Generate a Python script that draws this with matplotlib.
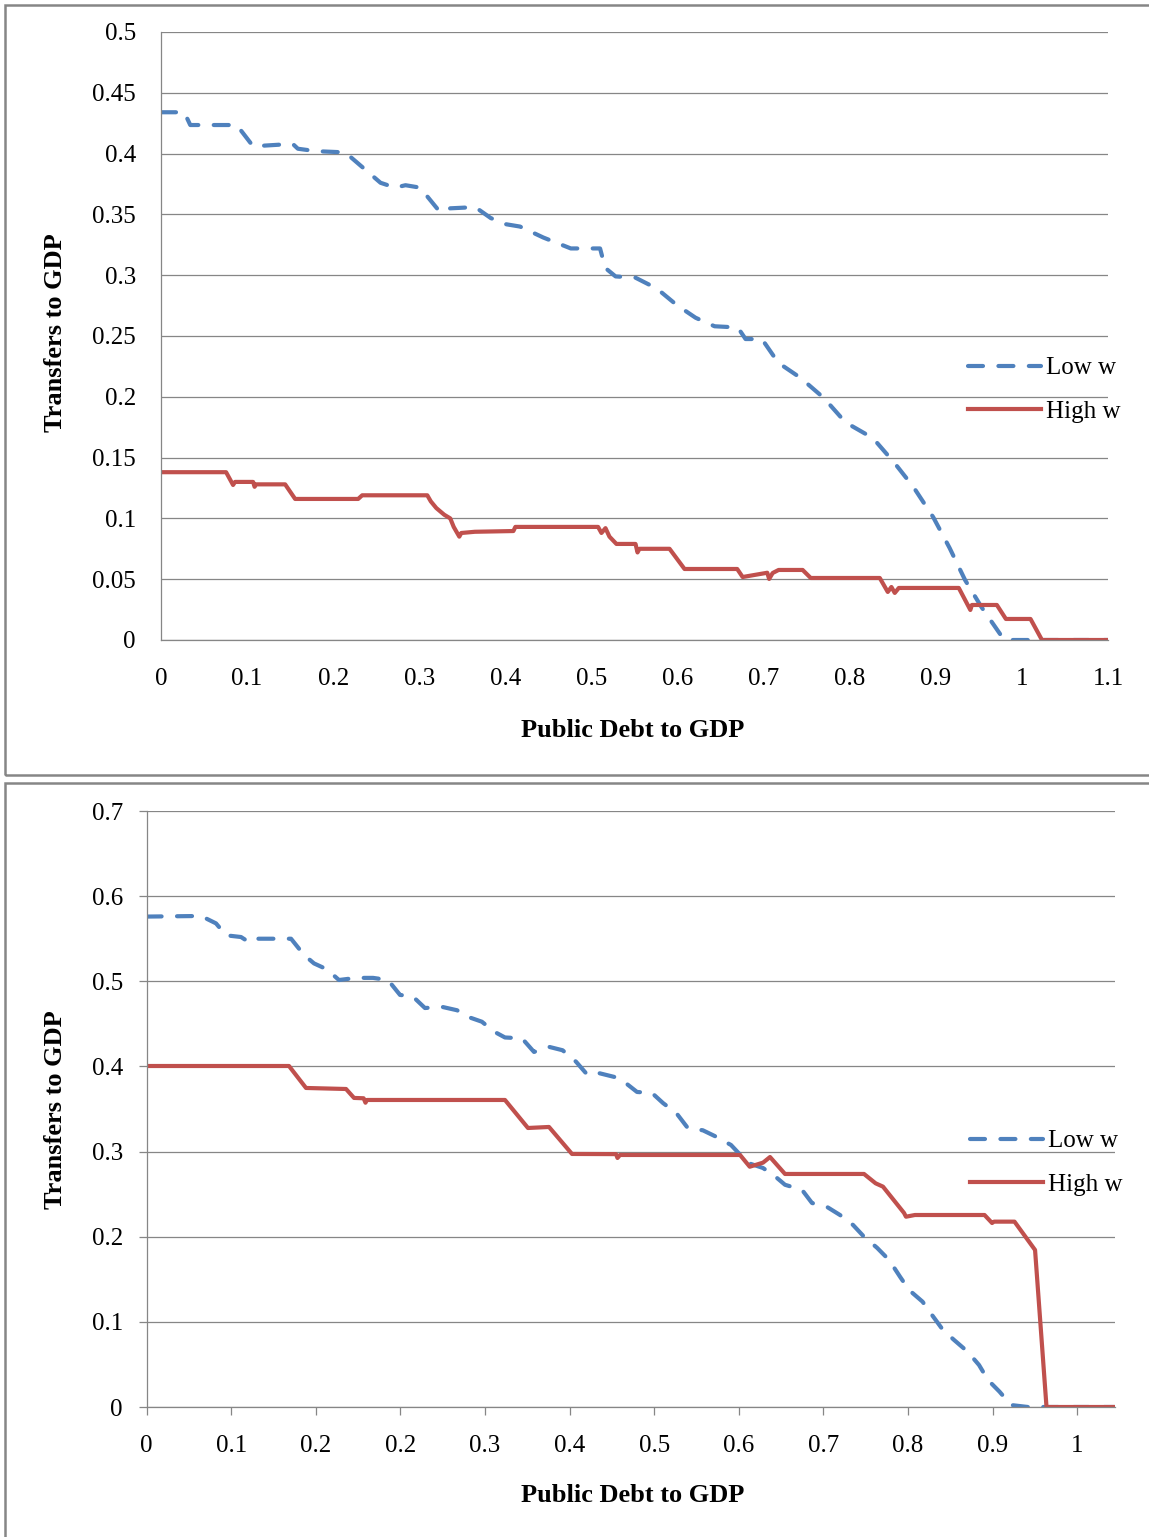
import matplotlib
matplotlib.use("Agg")
import matplotlib.pyplot as plt
from matplotlib.patches import Rectangle

plt.rcParams['font.family'] = ['Liberation Serif', 'DejaVu Serif']

W, H = 1149, 1537
BLUE = '#4F81BD'
RED = '#C0504D'
GREY = '#868686'

# ---- top chart data ----
top_low_x = [0, .027, .034, .088, .107, .153, .159, .180, .214, .255, .272, .284, .301,
             .324, .336, .365, .383, .400, .417, .444, .476, .510, .516, .528, .551,
             .576, .599, .621, .643, .670, .679, .698, .717, .743, .770, .795, .827,
             .852, .874, .897, .916, .934, .953, .977, .981, 1.1]
top_low_y = [.434, .434, .4235, .4235, .406, .408, .404, .402, .401, .376, .372, .374, .372,
             .352, .355, .356, .347, .342, .340, .331, .322, .322, .306, .299, .298,
             .289, .2755, .265, .258, .257, .2475, .2475, .228, .2155, .199, .179, .166,
             .1456, .1258, .101, .0757, .0493, .0271, .0025, 0, 0]

top_high_x = [0, .0756, .0837, .086, .107, .1087, .1105, .1442, .1558, .229, .2337, .3093,
              .3134, .3198, .329, .336, .340, .3465, .3488, .3645, .4093, .4116, .4448,
              .4488, .5077, .5116, .5163, .5209, .529, .5512, .5535, .5558, .5907, .6081,
              .6693, .6756, .7042, .7064, .7105, .7174, .7453, .7547, .8349, .8442, .8484,
              .8523, .857, .9267, .9401, .9419, .9709, .9814, 1.01, 1.0233, 1.1]
top_high_y = [.138, .138, .1275, .130, .130, .126, .128, .128, .116, .116, .119, .119,
              .114, .1085, .103, .100, .093, .085, .088, .089, .0896, .093, .093,
              .093, .093, .088, .092, .085, .079, .079, .072, .075, .075, .0584,
              .0584, .0518, .0553, .0502, .0551, .0576, .0576, .051, .051, .0395, .0436,
              .0387, .0428, .0428, .0247, .0288, .0288, .0173, .0173, 0, 0]

top_xticks = [0, .1, .2, .3, .4, .5, .6, .7, .8, .9, 1.0, 1.1]
top_xlabels = ['0', '0.1', '0.2', '0.3', '0.4', '0.5', '0.6', '0.7', '0.8', '0.9', '1', '1.1']
top_yticks = [0, .05, .1, .15, .2, .25, .3, .35, .4, .45, .5]
top_ylabels = ['0', '0.05', '0.1', '0.15', '0.2', '0.25', '0.3', '0.35', '0.4', '0.45', '0.5']

# ---- bottom chart data ----
bot_low_x = [0, .0585, .0746, .0853, .1014, .110, .116, .1365, .1552, .1691, .1799, .1938,
             .2067, .225, .2433, .2594, .2723, .2862, .2991, .3173, .3335, .3485, .3603,
             .3732, .3851, .4034, .4163, .4324, .447, .4614, .4738, .4866, .5028, .5148,
             .527, .5431, .5549, .5694, .5815, .5977, .6119, .628, .6398, .6463, .6624,
             .6763, .686, .7043, .715, .7311, .7451, .7591, .7709, .7849, .7978, .8096,
             .8193, .8338, .844, .8558, .8677, .8822, .8945, .9041, .9165, .9289, .9471, 1.04]
bot_low_y = [.576, .5767, .568, .554, .552, .546, .550, .550, .550, .531, .521, .514,
             .5015, .504, .504, .5015, .484, .482, .4686, .470, .466, .457, .4525,
             .441, .434, .433, .417, .423, .419, .4056, .390, .392, .3876, .3805,
             .370, .3688, .357, .345, .3277, .325, .3175, .3077, .294, .2866, .2807,
             .270, .261, .255, .2396, .235, .2255, .2138, .200, .187, .1727, .153,
             .1374, .1237, .108, .0904, .0787, .065, .0493, .0317, .018, .0023, 0, 0]

bot_high_x = [0, .153, .1713, .2143, .2229, .2332, .2352, .2368, .3851, .4098, .4324, .4571,
              .5044, .506, .5087, .6377, .6481, .6624, .6699, .686, .7709, .7834, .7913,
              .8139, .816, .8256, .8338, .9004, .9085, .9106, .9326, .9547, .967, 1.04]
bot_high_y = [.4005, .4005, .3747, .3735, .363, .3626, .3574, .3606, .3606, .3277, .3289, .2972,
              .297, .2925, .296, .296, .2822, .287, .2936, .2737, .2737, .2627, .2588,
              .2279, .2235, .2255, .2255, .2255, .2161, .2177, .2177, .1844, 0, 0]

bot_xtick_step = 1 / 11
bot_xlabels = ['0', '0.1', '0.2', '0.2', '0.3', '0.4', '0.5', '0.6', '0.7', '0.8', '0.9', '1']
bot_yticks = [0, .1, .2, .3, .4, .5, .6, .7]
bot_ylabels = ['0', '0.1', '0.2', '0.3', '0.4', '0.5', '0.6', '0.7']


def fig_box(left, top, right, bottom):
    return [left / W, 1 - bottom / H, (right - left) / W, (bottom - top) / H]


def style_axes(ax, ticklen):
    for side in ['top', 'right']:
        ax.spines[side].set_visible(False)
    for side in ['left', 'bottom']:
        ax.spines[side].set_color(GREY)
        ax.spines[side].set_linewidth(0.9)
    ax.yaxis.grid(True, color=GREY, linewidth=0.9)
    ax.set_axisbelow(True)
    ax.tick_params(axis='both', colors=GREY, length=ticklen, width=0.9,
                   labelsize=18, labelcolor='black')


def draw_lines(ax, xl, yl, xh, yh):
    ax.plot(xl, yl, color=BLUE, linewidth=3.0, linestyle=(0, (3.6, 3.7)),
            dash_capstyle='round', label='Low w')
    ax.plot(xh, yh, color=RED, linewidth=3.0, solid_joinstyle='round', label='High w')


def add_legend(ax, x, y):
    ax.legend(loc='center left', bbox_to_anchor=(x, y), frameon=False, fontsize=18,
              handlelength=2.9, handletextpad=0.22, labelspacing=0.85,
              borderpad=0, borderaxespad=0)


fig = plt.figure(figsize=(W / 100, H / 100), dpi=100)

# outer chart frames
fig.add_artist(Rectangle((5 / W, 1 - 775 / H), 1160 / W, 770 / H, transform=fig.transFigure,
                         fill=False, edgecolor=GREY, linewidth=1.8))
fig.add_artist(Rectangle((5 / W, 1 - 1560 / H), 1160 / W, 777 / H, transform=fig.transFigure,
                         fill=False, edgecolor=GREY, linewidth=1.8))

# top chart
ax1 = fig.add_axes(fig_box(161, 32, 1108, 640))
style_axes(ax1, 0)
draw_lines(ax1, top_low_x, top_low_y, top_high_x, top_high_y)
ax1.set_xlim(0, 1.1)
ax1.set_ylim(0, 0.5)
ax1.set_xticks(top_xticks, top_xlabels)
ax1.set_yticks(top_yticks, top_ylabels)
ax1.tick_params(axis='y', pad=18)
ax1.tick_params(axis='x', pad=20)
add_legend(ax1, (968 - 161) / 947, (640 - 390) / 608)

# bottom chart
ax2 = fig.add_axes(fig_box(146.6, 811, 1115, 1407))
style_axes(ax2, 6)
draw_lines(ax2, bot_low_x, bot_low_y, bot_high_x, bot_high_y)
ax2.set_xlim(0, 1.0406)
ax2.set_ylim(0, 0.7)
ax2.set_xticks([k * bot_xtick_step for k in range(len(bot_xlabels))], bot_xlabels)
ax2.set_yticks(bot_yticks, bot_ylabels)
ax2.tick_params(axis='y', pad=11)
ax2.tick_params(axis='x', pad=14)
add_legend(ax2, (970 - 146.6) / 968.4, (1407 - 1163) / 596)

# axis titles
for cx, cy in [(633, 730), (633, 1495)]:
    fig.text(cx / W, 1 - cy / H, 'Public Debt to GDP', ha='center', va='center',
             fontsize=19, fontweight='bold')
for cx, cy in [(55.5, 333), (55.5, 1110)]:
    fig.text(cx / W, 1 - cy / H, 'Transfers to GDP', ha='center', va='center',
             fontsize=19, fontweight='bold', rotation=90)

fig.savefig('out.png', dpi=100)
